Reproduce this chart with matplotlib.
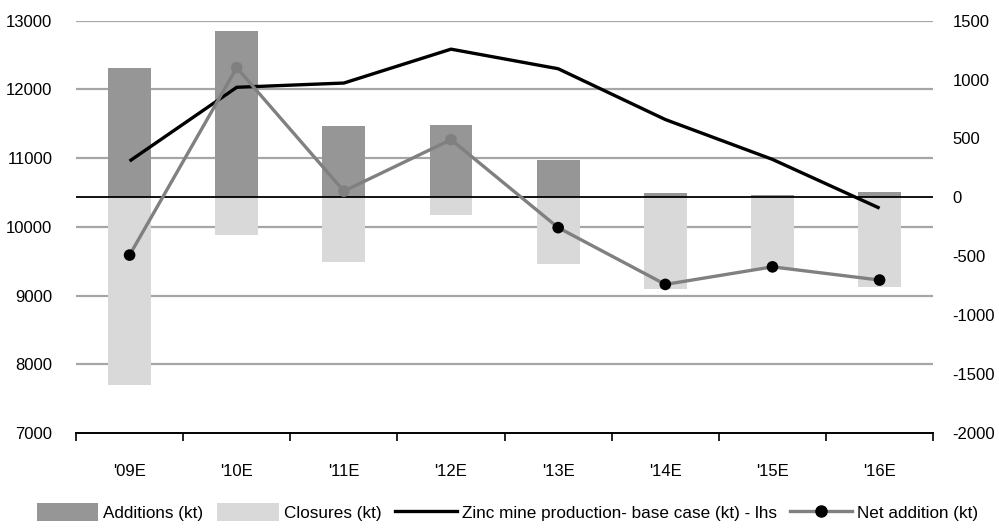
import matplotlib
matplotlib.use('Agg')
import matplotlib.pyplot as plt
from matplotlib.patches import Patch
from matplotlib.lines import Line2D
import numpy as np

plt.rcParams['font.family'] = ['Liberation Sans', 'DejaVu Sans']
plt.rcParams['axes.unicode_minus'] = False

# Data
years = ["'09E", "'10E", "'11E", "'12E", "'13E", "'14E", "'15E", "'16E"]
additions = [1100, 1410, 603, 611, 314, 34, 17, 48]           # kt, rhs
closures = [-1590, -320, -549, -150, -566, -778, -610, -758]  # kt, rhs
zinc_prod = [10957, 12030, 12092, 12585, 12300, 11561, 10981, 10271]  # kt, lhs
net_add = [-490, 1101, 53, 490, -257, -739, -590, -702]      # kt, rhs
net_marker_colors = ['black', '#808080', '#808080', '#808080',
                     'black', 'black', 'black', 'black']

C_ADD = '#969696'
C_CLOSE = '#d9d9d9'
C_NET = '#808080'
C_GRID = '#a6a6a6'

x = np.arange(len(years))

fig = plt.figure(figsize=(9.99, 5.29), dpi=100)
ax = fig.add_axes([0.0761, 0.1815, 0.858, 0.7795])  # left scale
ax2 = ax.twinx()                                      # right scale

ax.set_ylim(7000, 13000)
ax.set_yticks(range(7000, 13001, 1000))
ax2.set_ylim(-2000, 1500)
ax2.set_yticks(range(-2000, 1501, 500))
ax.set_xlim(-0.5, len(years) - 0.5)

# gridlines on left scale, behind everything
for v in range(8000, 13001, 1000):
    ax.axhline(v, color=C_GRID, lw=1.6, zorder=0)

# bars on right scale
ax2.bar(x, additions, width=0.4, color=C_ADD, zorder=1)
ax2.bar(x, closures, width=0.4, color=C_CLOSE, zorder=1)
ax2.axhline(0, color='black', lw=1.3, zorder=2)

# zinc production drawn in ax2 (so it sits above the bars) using left-scale coords
ax2.plot(x, zinc_prod, color='black', lw=2.4, transform=ax.transData, zorder=3,
         solid_capstyle='butt')

# net additions
ax2.plot(x, net_add, color=C_NET, lw=2.4, zorder=4)
ax2.scatter(x, net_add, s=70, c=net_marker_colors, zorder=5, linewidths=0)

# spines and ticks
for a in (ax, ax2):
    for s in ('top', 'left', 'right'):
        a.spines[s].set_visible(False)
ax.spines['bottom'].set_color('black')
ax.spines['bottom'].set_linewidth(1.4)
ax2.spines['bottom'].set_visible(False)

ax.set_xticks(np.arange(-0.5, len(years), 1.0))
ax.set_xticklabels([])
ax.tick_params(axis='x', which='major', direction='out', length=6, width=1.2, color='black')
ax.set_xticks(x, minor=True)
ax.set_xticklabels(years, minor=True)
ax.tick_params(axis='x', which='minor', length=0, pad=22, labelsize=12)

ax.tick_params(axis='y', length=0, pad=17, labelsize=12)
ax2.tick_params(axis='y', length=0, pad=14, labelsize=12)

handles = [
    Patch(facecolor=C_ADD, edgecolor='none', label='Additions (kt)'),
    Patch(facecolor=C_CLOSE, edgecolor='none', label='Closures (kt)'),
    Line2D([], [], color='black', lw=2.4, label='Zinc mine production- base case (kt) - lhs'),
    Line2D([], [], color=C_NET, lw=2.4, marker='o', markersize=8,
           markerfacecolor='black', markeredgecolor='black', label='Net addition (kt)'),
]
fig.legend(handles=handles, loc='center', bbox_to_anchor=(0.508, 0.032), ncol=4,
           frameon=False, fontsize=12.3, handlelength=3.6, handleheight=1.2,
           handletextpad=0.3, columnspacing=0.8)

fig.savefig('out.png', dpi=100)
